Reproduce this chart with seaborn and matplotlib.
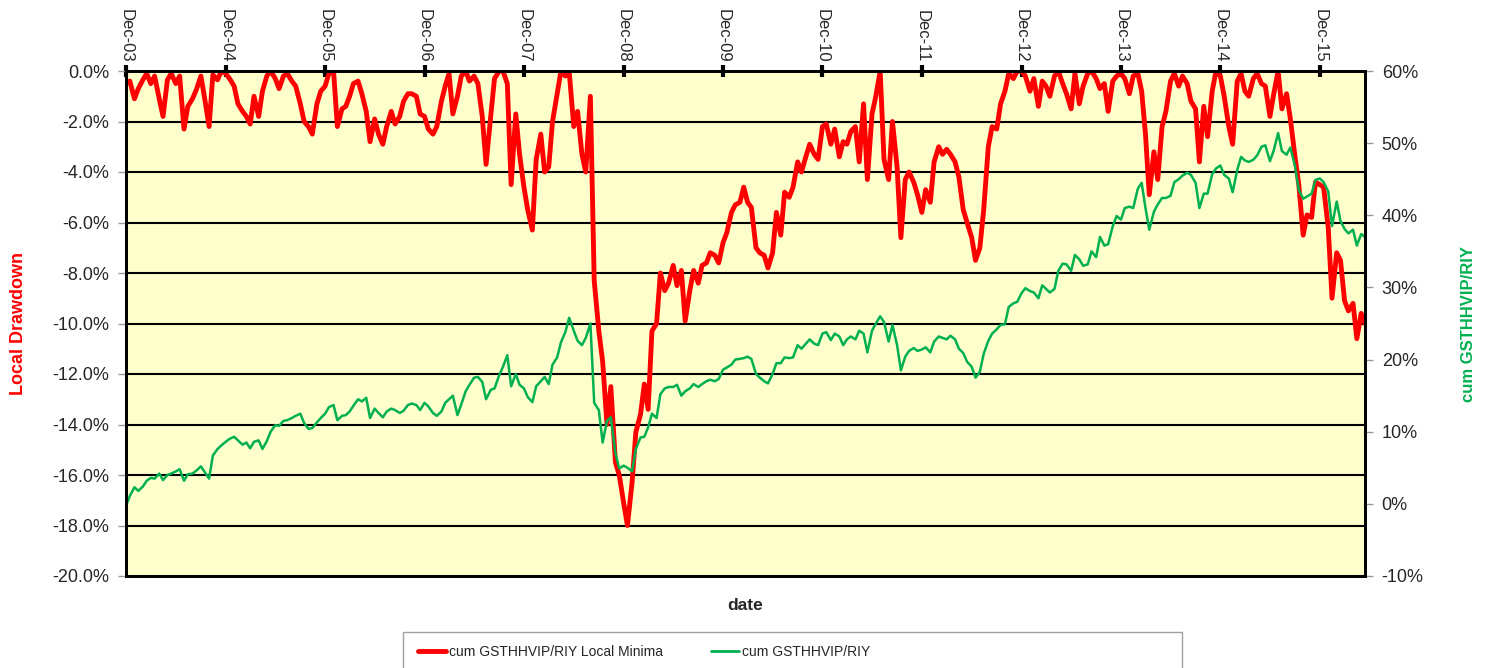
import matplotlib
matplotlib.use("Agg")
import pandas as pd
import seaborn as sns
import matplotlib.pyplot as plt
import matplotlib.dates as mdates
from matplotlib.ticker import FuncFormatter, MultipleLocator
from matplotlib.lines import Line2D
from matplotlib.patches import Rectangle

# semi-monthly readings, one row per year starting Dec-03
START = "2003-12-01"

# left axis: local drawdown (%)
local_minima = [
    -0.5, -0.4, -1.1, -0.7, -0.35, -0.1, -0.5, -0.2, -1.1, -1.8, -0.35, -0.1, -0.5, -0.2, -2.3, -1.4, -1.1, -0.75, -0.2, -1.1, -2.2, -0.15, -0.35, 0,
    -0.1, -0.3, -0.6, -1.3, -1.6, -1.8, -2.1, -1.0, -1.8, -0.8, -0.2, 0, -0.3, -0.7, -0.2, -0.1, -0.4, -0.6, -1.3, -2.0, -2.2, -2.5, -1.3, -0.8,
    -0.6, -0.1, 0, -2.2, -1.5, -1.4, -1.0, -0.5, -0.4, -0.9, -1.6, -2.8, -1.9, -2.5, -2.9, -2.2, -1.6, -2.1, -1.8, -1.2, -0.9, -0.9, -1.0, -1.7,
    -1.8, -2.3, -2.5, -2.2, -1.2, -0.6, -0.1, -1.7, -1.0, -0.2, 0, -0.4, -0.2, -0.5, -1.8, -3.7, -1.8, -0.3, 0, 0, -0.5, -4.5, -1.7, -3.3,
    -4.6, -5.5, -6.3, -3.5, -2.5, -4.0, -3.8, -2.0, -0.9, 0, -0.2, 0, -2.2, -1.6, -3.3, -4.0, -1.0, -8.3, -10.3, -11.5, -14.0, -12.5, -15.5, -16.0,
    -17.1, -18.0, -16.3, -14.3, -13.6, -12.4, -13.4, -10.3, -10.0, -8.0, -8.7, -8.4, -7.7, -8.5, -7.9, -9.9, -8.7, -7.9, -8.4, -7.7, -7.6, -7.2, -7.3, -7.6,
    -6.8, -6.4, -5.6, -5.3, -5.2, -4.6, -5.2, -5.4, -7.0, -7.2, -7.3, -7.8, -7.2, -5.6, -6.5, -4.8, -5.0, -4.6, -3.6, -4.0, -3.4, -2.9, -3.3, -3.5,
    -2.2, -2.1, -2.9, -2.3, -3.4, -2.8, -2.9, -2.4, -2.2, -3.6, -1.3, -4.3, -1.7, -1.0, 0, -3.5, -4.3, -2.0, -3.8, -6.6, -4.3, -4.0, -4.4, -4.9,
    -5.6, -4.7, -5.2, -3.6, -3.0, -3.3, -3.1, -3.3, -3.6, -4.2, -5.5, -6.0, -6.6, -7.5, -7.0, -5.5, -3.0, -2.2, -2.3, -1.3, -0.8, -0.1, -0.3, 0,
    0, -0.2, -0.8, -0.3, -1.4, -0.4, -0.6, -1.0, -0.2, 0, -0.5, -0.9, -1.5, -0.1, -1.3, -0.6, -0.1, 0, -0.3, -0.7, -0.5, -1.6, -0.4, -0.2,
    -0.1, -0.3, -0.9, -0.2, -0.1, -0.8, -2.5, -4.9, -3.2, -4.3, -2.2, -1.6, -0.4, -0.1, -0.6, -0.2, -0.5, -1.2, -1.5, -3.6, -1.4, -2.6, -0.8, 0,
    -0.2, -1.0, -2.2, -2.9, -0.4, -0.1, -0.8, -1.0, -0.3, -0.1, -0.5, -0.6, -1.8, -0.9, 0, -1.5, -0.9, -1.9, -3.4, -4.5, -6.5, -5.7, -5.8, -4.4,
    -4.5, -4.6, -6.2, -9.0, -7.2, -7.5, -9.1, -9.5, -9.2, -10.6, -9.6, -10.0,
]

# right axis: cumulative GSTHHVIP/RIY (%)
cum_ratio = [
    -0.3, 1.1, 2.3, 1.8, 2.4, 3.2, 3.6, 3.5, 4.2, 3.3, 4.0, 4.2, 4.5, 4.8, 3.2, 4.1, 4.2, 4.6, 5.2, 4.4, 3.5, 6.7, 7.6, 8.1,
    8.6, 9.0, 9.3, 8.8, 8.2, 8.5, 7.7, 8.6, 8.8, 7.6, 8.7, 10.0, 10.9, 10.8, 11.5, 11.6, 11.9, 12.2, 12.5, 11.2, 10.4, 10.5, 11.3, 11.9,
    12.5, 13.4, 13.7, 11.6, 12.2, 12.3, 12.8, 13.6, 14.5, 14.2, 14.7, 11.9, 13.2, 12.6, 12.0, 12.8, 13.2, 13.0, 12.6, 12.9, 13.7, 13.9, 13.7, 13.0,
    14.0, 13.5, 12.6, 12.2, 12.8, 14.0, 14.5, 15.0, 12.3, 13.8, 15.6, 16.5, 17.5, 17.6, 16.9, 14.5, 15.8, 16.0, 17.8, 19.0, 20.6, 16.3, 18.0, 16.5,
    16.0, 14.8, 14.1, 16.3, 17.0, 17.6, 16.6, 19.3, 20.3, 22.4, 23.8, 25.8, 24.0, 22.6, 22.0, 23.0, 25.0, 14.0, 13.0, 8.5, 11.5, 12.0, 7.0, 4.9,
    5.3, 5.0, 4.5, 7.6, 9.2, 9.3, 10.6, 12.5, 11.9, 15.2, 16.0, 16.2, 16.2, 16.5, 15.0, 15.6, 16.0, 16.6, 16.2, 16.6, 17.0, 17.2, 17.0, 17.3,
    18.6, 18.9, 19.3, 20.0, 20.1, 20.2, 20.4, 20.1, 18.0, 17.5, 17.0, 16.7, 18.0, 19.5, 19.5, 20.3, 20.2, 20.3, 22.0, 21.5, 22.2, 22.8, 22.2, 22.0,
    23.6, 23.8, 22.7, 23.6, 23.2, 22.0, 22.8, 23.2, 22.8, 24.0, 23.6, 21.0, 24.0, 25.0, 26.0, 25.2, 22.5, 24.8, 22.0, 18.5, 20.4, 21.2, 21.6, 21.2,
    21.4, 21.7, 21.0, 22.5, 23.2, 23.0, 22.8, 23.3, 22.8, 21.5, 20.9, 19.7, 19.0, 17.5, 18.3, 20.8, 22.6, 23.6, 24.2, 24.8, 24.9, 27.3, 27.8, 28.0,
    29.2, 29.9, 29.5, 29.3, 28.5, 30.3, 29.8, 29.3, 29.8, 32.3, 33.3, 33.2, 32.3, 34.5, 33.9, 33.0, 33.2, 35.0, 34.2, 37.0, 35.8, 36.0, 38.5, 39.9,
    39.4, 41.0, 41.2, 41.0, 43.7, 44.5, 41.0, 38.0, 40.5, 41.5, 42.4, 42.4, 42.7, 44.6, 45.0, 45.5, 45.9, 45.6, 44.5, 41.0, 43.0, 43.0, 45.7, 46.5,
    46.9, 45.6, 45.1, 43.2, 46.3, 48.1, 47.6, 47.4, 47.7, 48.3, 49.5, 49.7, 47.5, 49.0, 51.4, 48.9, 48.4, 49.4, 46.8, 43.5, 42.3, 42.6, 43.0, 44.9,
    45.1, 44.6, 43.3, 38.5, 41.9, 39.2, 38.1, 37.5, 38.0, 35.8, 37.4, 37.0,
]

RED = "#FF0000"
GREEN = "#00B050"
labels = ["cum GSTHHVIP/RIY Local Minima", "cum GSTHHVIP/RIY"]

dates = pd.date_range(START, periods=len(local_minima), freq="SMS")
df = pd.DataFrame({"date": dates, "local_minima": local_minima, "cum": cum_ratio})

sns.set_theme(style="white")
plt.rcParams["font.family"] = ["Liberation Sans", "DejaVu Sans"]

W, H = 1490, 668
fig = plt.figure(figsize=(W / 100, H / 100), dpi=100)
ax1 = fig.add_axes([126 / W, 1 - 576 / H, (1365 - 126) / W, (576 - 71) / H])
ax1.set_facecolor("#FFFFCC")

sns.lineplot(data=df, x="date", y="local_minima", ax=ax1, color=RED, lw=3.5, legend=False)
ax2 = ax1.twinx()
sns.lineplot(data=df, x="date", y="cum", ax=ax2, color=GREEN, lw=1.8, legend=False)

# y axes
ax1.set_ylim(-20, 0)
ax1.yaxis.set_major_locator(MultipleLocator(2))
ax1.yaxis.set_major_formatter(FuncFormatter(lambda v, p: f"{v:.1f}%".replace("-0.0", "0.0")))
ax2.set_ylim(-10, 60)
ax2.yaxis.set_major_locator(MultipleLocator(10))
ax2.yaxis.set_major_formatter(FuncFormatter(lambda v, p: f"{v:.0f}%"))

ax1.grid(axis="y", color="black", lw=1.5)
ax1.grid(axis="x", visible=False)
ax2.grid(False)

ax1.tick_params(axis="y", left=True, direction="out", length=6, width=1,
                color="#999999", labelsize=13, pad=6)
ax2.tick_params(axis="y", right=True, direction="out", length=6, width=1,
                color="#999999", labelsize=13, pad=6)

# x axis: dates on top
ax1.set_xlim(dates[0], dates[-1])
ax1.xaxis.tick_top()
ax1.xaxis.set_major_locator(mdates.YearLocator(1, month=12, day=1))
ax1.xaxis.set_major_formatter(mdates.DateFormatter("%b-%y"))
ax1.tick_params(axis="x", top=True, bottom=False, direction="inout", length=8, width=3,
                color="black", labelsize=12, labelrotation=270, pad=2)
ax1.xaxis.set_label_position("bottom")

for ax in (ax1, ax2):
    for s in ax.spines.values():
        s.set_color("black")
        s.set_linewidth(2)

ax1.set_xlabel("date", fontweight="bold", fontsize=12.5, labelpad=16)
ax1.set_ylabel("Local Drawdown", color=RED, fontweight="bold", fontsize=13, labelpad=18)
ax2.set_ylabel("cum GSTHHVIP/RIY", color=GREEN, fontweight="bold", fontsize=12,
               labelpad=27, rotation=90)

# legend box at the bottom
fig.add_artist(Rectangle((403 / W, -0.05), 779 / W, 0.05 + (1 - 632 / H),
                         transform=fig.transFigure, fill=False, edgecolor="#A0A0A0", lw=1))
handles = [Line2D([0], [0], color=RED, lw=3.5), Line2D([0], [0], color=GREEN, lw=2)]
fig.legend(handles, labels, loc="center", bbox_to_anchor=(644 / W, 1 - 652 / H), ncol=2,
           frameon=False, fontsize=10, handlelength=2.0, handletextpad=0.2, columnspacing=3.5)

fig.savefig("out.png", dpi=100)
